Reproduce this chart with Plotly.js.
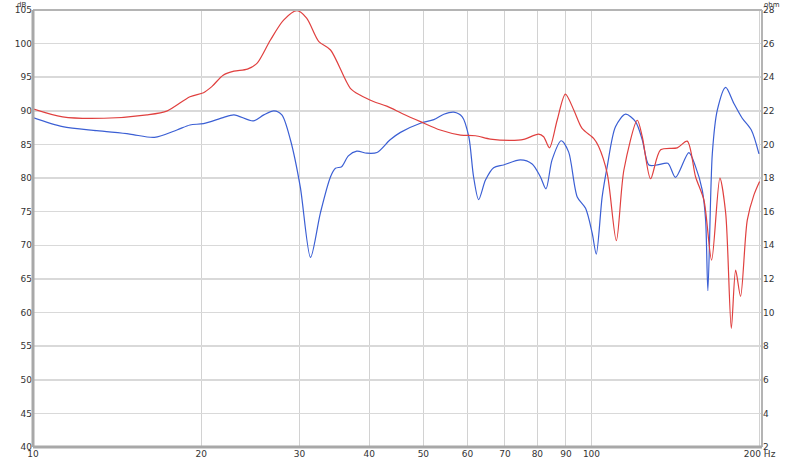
<!DOCTYPE html>
<html>
<head>
<meta charset="utf-8">
<script src="https://cdn.plot.ly/plotly-3.0.1.min.js"></script>
<style>
  html, body { margin: 0; padding: 0; background: #fff; }
  #chart { width: 800px; height: 462px; }
</style>
</head>
<body>
<div id="chart"></div>
<script>
// SPL curve (dB, left axis)
var splFreq = [10, 11.3, 13.0, 14.9, 16.5, 18.1, 19.1, 20.2, 21.9, 22.9, 24.8, 25.9, 27.0, 27.9,
    28.9, 30.1, 31.4, 32.7, 34.1, 34.8, 35.7, 36.7, 38.0, 39.6, 41.3, 43.6, 45.5, 49.4, 52.2,
    54.4, 56.7, 58.7, 60.3, 61.5, 62.8, 64.6, 66.8, 69.6, 74.6, 78.3, 81.0, 82.9, 85.0, 88.3,
    91.0, 94.3, 97.6, 100.3, 102.0, 104.5, 106.7, 110.4, 115.1, 119.9, 123.3, 126.7, 131.2,
    137.0, 141.4, 149.4, 153.6, 157.9, 160.1, 161.6, 164.6, 168.0, 173.9, 179.9, 186.2,
    193.3, 199.5];
var splDb = [89.0, 87.65, 87.05, 86.55, 86.05, 87.15, 87.9, 88.1, 89.0, 89.4, 88.5, 89.4, 90.0, 89.4,
    85.7, 78.7, 68.2, 74.8, 80.2, 81.45, 81.7, 83.3, 84.0, 83.7, 83.8, 85.7, 86.8, 88.15, 88.7,
    89.5, 89.8, 89.1, 86.15, 80.2, 76.8, 79.7, 81.55, 81.95, 82.7, 82.1, 80.2, 78.4, 82.7, 85.55,
    83.9, 77.2, 75.5, 71.8, 68.7, 77.2, 81.7, 87.65, 89.5, 88.4, 85.7, 81.95, 81.95,
    82.2, 80.1, 83.8, 81.7, 78.2, 73.75, 63.25, 83.7, 90.1, 93.5, 91.1, 88.9,
    87.15, 83.6];

// impedance curve (ohm, right axis)
var impFreq = [10, 11.3, 13.4, 16.0, 17.4, 19.1, 20.2, 20.9, 21.9, 22.9, 24.2, 25.2, 26.6, 28.1,
    29.7, 30.9, 32.5, 34.1, 37.0, 38.5, 40.7, 43.0, 46.1, 49.4, 53.6, 58.3, 62.0, 65.9, 71.6,
    75.6, 80.4, 82.1, 84.1, 86.8, 89.8, 93.0, 96.2, 100.9, 103.0, 106.7, 110.8, 114.3, 120.8,
    123.3, 127.6, 133.0, 142.4, 148.4, 153.6, 159.0, 164.1, 169.8, 173.9, 178.0, 181.2, 184.9,
    190.1, 195.4, 200];
var impOhm = [22.12, 21.64, 21.56, 21.76, 22.0, 22.84, 23.08, 23.44, 24.12, 24.36, 24.48, 24.84, 26.2, 27.4,
    27.96, 27.52, 26.12, 25.62, 23.34, 22.94, 22.56, 22.28, 21.8, 21.36, 20.86, 20.56, 20.52, 20.32, 20.24,
    20.3, 20.62, 20.46, 19.8, 21.44, 23.0, 22.04, 20.96, 20.36, 19.88, 18.28, 14.28, 18.48, 21.44,
    20.46, 17.96, 19.68, 19.8, 20.2, 18.08, 16.68, 13.12, 18.0, 15.92, 9.06, 12.52, 10.96,
    15.5, 17.0, 17.8];

var xTicks = [10, 20, 30, 40, 50, 60, 70, 80, 90, 100, 200];
var xTickText = ['10', '20', '30', '40', '50', '60', '70', '80', '90', '100', '200 Hz'];

var traceSpl = {
    x: splFreq,
    y: splDb,
    name: 'SPL',
    type: 'scatter',
    mode: 'lines',
    line: { color: '#3b5fd4', width: 1.2, shape: 'spline', smoothing: 0.8 },
    hoverinfo: 'x+y'
};

var traceImp = {
    x: impFreq,
    y: impOhm,
    name: 'Impedance',
    type: 'scatter',
    mode: 'lines',
    yaxis: 'y2',
    line: { color: '#e0403f', width: 1.2, shape: 'spline', smoothing: 0.8 },
    hoverinfo: 'x+y'
};

var data = [traceImp, traceSpl];

var tickFont = { family: 'DejaVu Sans, sans-serif', size: 9, color: '#333' };
var unitFont = { family: 'DejaVu Sans, sans-serif', size: 7, color: '#333' };

var layout = {
    width: 800,
    height: 462,
    paper_bgcolor: '#fff',
    plot_bgcolor: '#fff',
    showlegend: false,
    margin: { l: 33, r: 38, t: 10, b: 15 },
    font: tickFont,
    xaxis: {
        type: 'log',
        range: [1, Math.log10(202)],
        tickvals: xTicks,
        ticktext: xTickText,
        ticks: '',
        tickfont: tickFont,
        showgrid: true,
        gridcolor: '#d2d2d2',
        gridwidth: 1,
        zeroline: false,
        showline: false
    },
    yaxis: {
        range: [40, 105],
        dtick: 5,
        ticks: '',
        tickfont: tickFont,
        showgrid: true,
        gridcolor: '#d9d9d9',
        gridwidth: 1.5,
        zeroline: false,
        showline: false
    },
    yaxis2: {
        overlaying: 'y',
        side: 'right',
        range: [2, 28],
        dtick: 2,
        ticks: '',
        tickfont: tickFont,
        showgrid: false,
        zeroline: false,
        showline: false
    },
    shapes: [
        // frame: thicker on left and bottom
        { type: 'line', xref: 'paper', yref: 'paper', x0: 0, x1: 1, y0: 1, y1: 1,
          line: { color: '#b4b4b4', width: 2 } },
        { type: 'line', xref: 'paper', yref: 'paper', x0: 1, x1: 1, y0: 0, y1: 1,
          line: { color: '#b4b4b4', width: 2 } },
        { type: 'line', xref: 'paper', yref: 'paper', x0: 0, x1: 1, y0: 0, y1: 0,
          line: { color: '#a8a8a8', width: 3 } },
        { type: 'line', xref: 'paper', yref: 'paper', x0: 0, x1: 0, y0: 0, y1: 1,
          line: { color: '#a8a8a8', width: 3 } }
    ],
    annotations: [
        { text: 'dB', xref: 'paper', yref: 'paper', x: 0, y: 1, xanchor: 'right', yanchor: 'top',
          xshift: -5, yshift: 11, showarrow: false, font: unitFont },
        { text: 'ohm', xref: 'paper', yref: 'paper', x: 1, y: 1, xanchor: 'left', yanchor: 'top',
          xshift: 0, yshift: 11, showarrow: false, font: unitFont }
    ]
};

var config = { staticPlot: true, displayModeBar: false };

Plotly.newPlot('chart', data, layout, config);
</script>
</body>
</html>
